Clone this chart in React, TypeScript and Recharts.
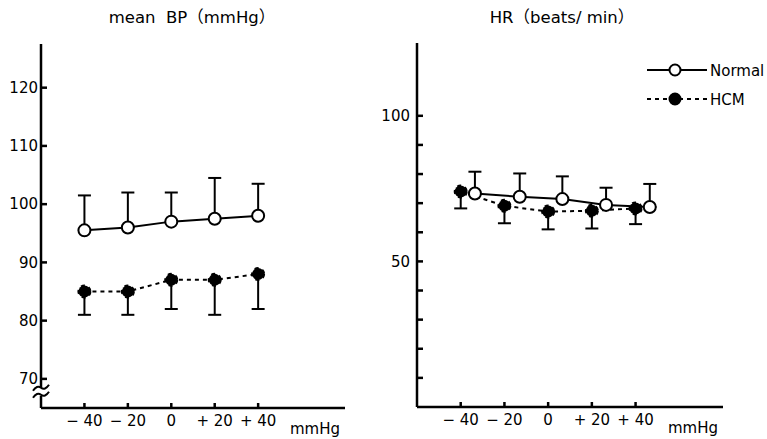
import { LineChart, Line, XAxis, YAxis, ErrorBar, Legend, ReferenceDot, Label } from "recharts"

// pressure change applied (mmHg)
const pressureSteps = [-40, -20, 0, 20, 40]
const pressureTickLabels = ["− 40", "− 20", "0", "+ 20", "+ 40"]

// mean BP panel
const bpTicks = [70, 80, 90, 100, 110, 120]
const bpNormalMean = [95.5, 96, 97, 97.5, 98]
const bpNormalSd = [6, 6, 5, 7, 5.5]
const bpHcmMean = [85, 85, 87, 87, 88]
const bpHcmSd = [4, 4, 5, 6, 6]

// HR panel (normal points drawn a little to the right)
const hrTicks = [10, 20, 30, 40, 50, 60, 70, 80, 90, 100]
const hrTickLabels = ["", "", "", "", "50", "", "", "", "", "100"]
const hrNormalSteps = [-33.5, -13, 6.5, 26.5, 46.5]
const hrNormalMean = [73.3, 72.2, 71.4, 69.4, 68.7]
const hrNormalSd = [7.5, 8, 7.8, 5.9, 7.9]
const hrHcmMean = [74, 69.1, 67.1, 67.4, 68.2]
const hrHcmSd = [5.8, 6, 6.1, 6.1, 5.4]

const legendOrder = ["Normal", "HCM"]

const FONT = '"DejaVu Sans", "Noto Sans CJK JP", sans-serif'

// one-sided error bars: normal goes up, HCM goes down
const rows = (xs: number[], means: number[], sds: number[], up: boolean) =>
  xs.map((x, i) => ({ x, y: means[i], err: up ? [0, sds[i]] : [sds[i], 0] }))

const bpNormal = rows(pressureSteps, bpNormalMean, bpNormalSd, true)
const bpHcm = rows(pressureSteps, bpHcmMean, bpHcmSd, false)
const hrNormal = rows(hrNormalSteps, hrNormalMean, hrNormalSd, true)
const hrHcm = rows(pressureSteps, hrHcmMean, hrHcmSd, false)

const fmtX = (v: number) => pressureTickLabels[pressureSteps.indexOf(v)] ?? ""
const fmtHr = (v: number) => hrTickLabels[hrTicks.indexOf(v)] ?? ""

const openDot = { r: 6, fill: "#fff", stroke: "#000", strokeWidth: 2 }
const filledDot = { r: 6, fill: "#000", stroke: "#000", strokeWidth: 2 }
const tickStyle = { fill: "#000", fontSize: 15, fontFamily: FONT }

const titleStyle = (cx: number): React.CSSProperties => ({
  position: "absolute",
  left: cx - 120,
  width: 240,
  top: 4,
  textAlign: "center",
  fontSize: 16.5,
  fontFamily: FONT,
  color: "#000",
  whiteSpace: "pre",
})

// axis break mark on the BP axis
const AxisBreak = (props: any) => {
  const { cx, cy } = props
  return (
    <g>
      <rect x={cx - 3} y={cy - 4} width={6} height={8} fill="#fff" />
      <path d={`M${cx - 8},${cy - 1} q4,-6 8,-3 q4,3 8,-3`} fill="none" stroke="#000" strokeWidth={2} />
      <path d={`M${cx - 8},${cy + 6} q4,-6 8,-3 q4,3 8,-3`} fill="none" stroke="#000" strokeWidth={2} />
    </g>
  )
}

const LegendBox = (props: any) => {
  const items = [...(props.payload || [])].sort(
    (a: any, b: any) => legendOrder.indexOf(a.value) - legendOrder.indexOf(b.value)
  )
  return (
    <svg width={125} height={50} style={{ overflow: "visible" }}>
      {items.map((p: any, i: number) => {
        const y = 10 + i * 29
        const hcm = p.value === "HCM"
        return (
          <g key={p.value}>
            <line x1={2} x2={62} y1={y} y2={y} stroke="#000" strokeWidth={2} strokeDasharray={hcm ? "4 4" : undefined} />
            <circle cx={30} cy={y} r={5.5} fill={hcm ? "#000" : "#fff"} stroke="#000" strokeWidth={2} />
            <text x={65} y={y + 5.5} fontSize={15} fontFamily={FONT} fill="#000">{p.value}</text>
          </g>
        )
      })}
    </svg>
  )
}

export default function App() {
  return (
    <div style={{ position: "absolute", left: 0, top: 0, width: 767, height: 439, background: "#fff" }}>
      <div style={titleStyle(192)}>mean  BP（mmHg）</div>
      <div style={titleStyle(562)}>HR（beats/ min）</div>

      <div style={{ position: "absolute", left: 0, top: 0 }}>
        <LineChart width={380} height={439} margin={{ top: 44, right: 35, bottom: 0, left: 0 }}>
          <XAxis type="number" dataKey="x" domain={[-60, 80]} ticks={pressureSteps} tickFormatter={fmtX}
            height={31} stroke="#000" strokeWidth={2.5} tickSize={-5} tickMargin={12} tick={tickStyle} allowDataOverflow>
            <Label value="mmHg" position="insideRight" offset={5} dy={5} fontSize={15} fontFamily={FONT} fill="#000" />
          </XAxis>
          <YAxis type="number" domain={[65, 127.5]} ticks={bpTicks} width={41} stroke="#000" strokeWidth={2.5}
            tickSize={-6} tickMargin={9} tick={tickStyle} allowDataOverflow />
          <Line data={bpNormal} dataKey="y" stroke="#000" strokeWidth={2} dot={openDot} isAnimationActive={false}>
            <ErrorBar dataKey="err" direction="y" width={6.5} stroke="#000" strokeWidth={2} />
          </Line>
          <Line data={bpHcm} dataKey="y" stroke="#000" strokeWidth={2} strokeDasharray="4 4" dot={filledDot} isAnimationActive={false}>
            <ErrorBar dataKey="err" direction="y" width={6.5} stroke="#000" strokeWidth={2} />
          </Line>
          <ReferenceDot x={-60} y={67.8} shape={AxisBreak} ifOverflow="visible" />
        </LineChart>
      </div>

      <div style={{ position: "absolute", left: 380, top: 0 }}>
        <LineChart width={387} height={439} margin={{ top: 43, right: 44, bottom: 0, left: 0 }}>
          <XAxis type="number" dataKey="x" domain={[-60, 80]} ticks={pressureSteps} tickFormatter={fmtX}
            height={32} stroke="#000" strokeWidth={2.5} tickSize={-5} tickMargin={12} tick={tickStyle} allowDataOverflow>
            <Label value="mmHg" position="insideRight" offset={5} dy={5} fontSize={15} fontFamily={FONT} fill="#000" />
          </XAxis>
          <YAxis type="number" domain={[0, 125]} ticks={hrTicks} tickFormatter={fmtHr} width={37} stroke="#000"
            strokeWidth={2.5} tickSize={-6} tickMargin={13} tick={tickStyle} allowDataOverflow />
          <Line name="Normal" data={hrNormal} dataKey="y" stroke="#000" strokeWidth={2} dot={openDot} isAnimationActive={false}>
            <ErrorBar dataKey="err" direction="y" width={6.5} stroke="#000" strokeWidth={2} />
          </Line>
          <Line name="HCM" data={hrHcm} dataKey="y" stroke="#000" strokeWidth={2} strokeDasharray="4 4" dot={filledDot} isAnimationActive={false}>
            <ErrorBar dataKey="err" direction="y" width={6.5} stroke="#000" strokeWidth={2} />
          </Line>
          <Legend layout="vertical" align="center" verticalAlign="middle" content={LegendBox}
            wrapperStyle={{ left: 265, top: 60, width: 125 }} />
        </LineChart>
      </div>
    </div>
  )
}
